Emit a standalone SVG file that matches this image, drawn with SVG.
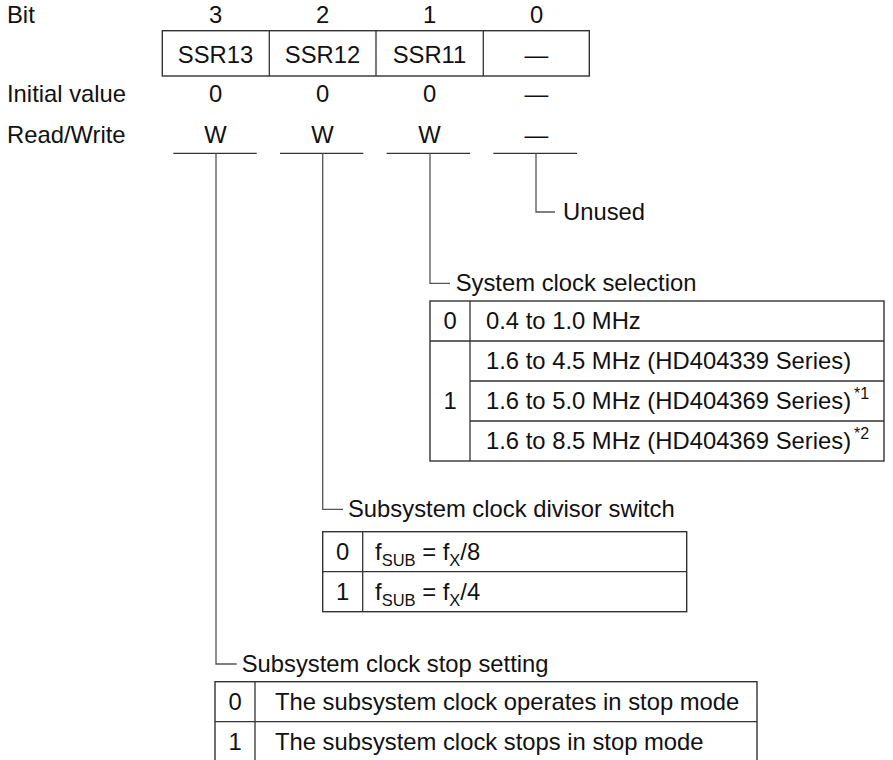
<svg xmlns="http://www.w3.org/2000/svg" width="893" height="760" viewBox="0 0 893 760">
<style>
text{font-family:"Liberation Sans",Arial,sans-serif;font-size:23.8px;fill:#111}
.c{text-anchor:middle}
.sub{font-size:16.5px}
.sup{font-size:16px}
.box{fill:none;stroke:#333;stroke-width:1.4}
.ln{fill:none;stroke:#333;stroke-width:1.3}
.cn{fill:none;stroke:#555;stroke-width:1.3}
</style>
<rect width="893" height="760" fill="#fff"/>
<g id="register">
<text x="7" y="23">Bit</text>
<text class="c" x="215.5" y="23">3</text>
<text class="c" x="322.5" y="23">2</text>
<text class="c" x="429.5" y="23">1</text>
<text class="c" x="536.5" y="23">0</text>
<rect class="box" x="162.3" y="30.7" width="427" height="45.3"/>
<path class="ln" d="M269.3 30.7V76M376 30.7V76M483.3 30.7V76"/>
<text class="c" x="215.5" y="62.7">SSR13</text>
<text class="c" x="322.5" y="62.7">SSR12</text>
<text class="c" x="429.5" y="62.7">SSR11</text>
<text class="c" x="536.5" y="62.7">—</text>
<text x="7" y="102">Initial value</text>
<text class="c" x="215.5" y="102">0</text>
<text class="c" x="322.5" y="102">0</text>
<text class="c" x="429.5" y="102">0</text>
<text class="c" x="536.5" y="102">—</text>
<text x="7" y="142.5">Read/Write</text>
<text class="c" x="215.5" y="142.5">W</text>
<text class="c" x="322.5" y="142.5">W</text>
<text class="c" x="429.5" y="142.5">W</text>
<text class="c" x="536.5" y="142.5">—</text>
<path class="ln" d="M173.3 153.3H256.7M280 153.3H363.3M386.7 153.3H470M493.3 153.3H577"/>
</g>
<g id="connectors">
<path class="cn" d="M536 153.3V212H555"/>
<path class="cn" d="M430 153.3V283.3H450"/>
<path class="cn" d="M322.7 153.3V509.3H343"/>
<path class="cn" d="M216 153.3V664H236.7"/>
</g>
<g id="unused">
<text x="563" y="220">Unused</text>
</g>
<g id="system-clock">
<text x="455.7" y="291">System clock selection</text>
<rect class="box" x="430" y="301" width="454" height="160"/>
<path class="ln" d="M470 301V461M430 341H884M470 381H884M470 421H884"/>
<text class="c" x="450" y="329">0</text>
<text class="c" x="450" y="409">1</text>
<text x="486" y="329">0.4 to 1.0 MHz</text>
<text x="486" y="369">1.6 to 4.5 MHz (HD404339 Series)</text>
<text x="486" y="409">1.6 to 5.0 MHz (HD404369 Series)</text>
<text class="sup" x="854" y="399">*1</text>
<text x="486" y="449">1.6 to 8.5 MHz (HD404369 Series)</text>
<text class="sup" x="854" y="439">*2</text>
</g>
<g id="divisor-switch">
<text x="348" y="517">Subsystem clock divisor switch</text>
<rect class="box" x="322.7" y="531.7" width="364" height="80"/>
<path class="ln" d="M362.7 531.7V611.7M322.7 571.7H686.7"/>
<text class="c" x="342.7" y="560">0</text>
<text class="c" x="342.7" y="600">1</text>
<text x="375" y="560">f<tspan class="sub" dy="6">SUB</tspan><tspan dy="-6"> = f</tspan><tspan class="sub" dy="6">X</tspan><tspan dy="-6">/8</tspan></text>
<text x="375" y="600">f<tspan class="sub" dy="6">SUB</tspan><tspan dy="-6"> = f</tspan><tspan class="sub" dy="6">X</tspan><tspan dy="-6">/4</tspan></text>
</g>
<g id="stop-setting">
<text x="241.7" y="672">Subsystem clock stop setting</text>
<rect class="box" x="215" y="681.7" width="542" height="82"/>
<path class="ln" d="M255 681.7V764M215 721.7H757"/>
<text class="c" x="235" y="710">0</text>
<text class="c" x="235" y="750">1</text>
<text x="275" y="710">The subsystem clock operates in stop mode</text>
<text x="275" y="750">The subsystem clock stops in stop mode</text>
</g>
</svg>
